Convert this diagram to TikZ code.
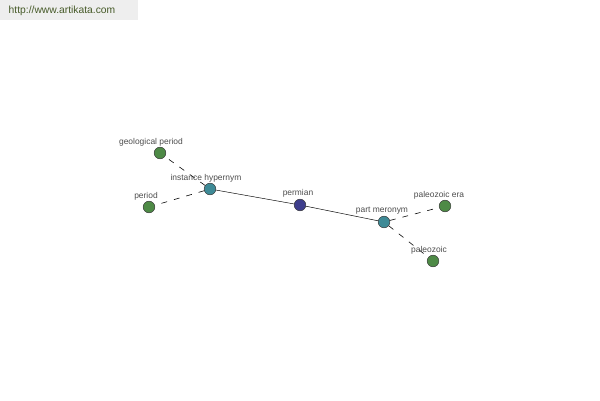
\documentclass[tikz,border=0pt]{standalone}
\usepackage{fontspec}
\setmainfont{Liberation Sans}
\definecolor{leafgreen}{RGB}{78,138,70}
\definecolor{relteal}{RGB}{62,138,150}
\definecolor{wordblue}{RGB}{62,62,140}
\definecolor{markgray}{RGB}{238,238,238}
\definecolor{markgreen}{RGB}{70,90,40}
\begin{document}
\begin{tikzpicture}
    [x=0.03cm, y=-0.03cm,
      dot/.style={circle,draw=black!80,line width=0.4pt,inner sep=0pt,minimum size=0.35cm},
      lab/.style={font=\fontsize{7.2}{8}\selectfont,text=black!70,inner sep=0pt},
      rel/.style={dash pattern=on 5pt off 6pt,line width=0.5pt}]
    \useasboundingbox (0,0) rectangle (600,400);
    \fill[markgray] (0,0) rectangle (138,20);
    \node[font=\fontsize{8.8}{10}\selectfont,text=markgreen,inner sep=0pt] (mark) at (62,11) {http://www.artikata.com};
    % nodes
    \node[dot,fill=wordblue] (permian) at (300,205) {};
    \node[dot,fill=relteal] (hyper) at (210,189) {};
    \node[dot,fill=relteal] (mero) at (384,222) {};
    \node[dot,fill=leafgreen] (geo) at (160,153) {};
    \node[dot,fill=leafgreen] (period) at (149,207) {};
    \node[dot,fill=leafgreen] (era) at (445,206) {};
    \node[dot,fill=leafgreen] (paleo) at (433,261) {};
    % links
    \draw (hyper) -- (permian) -- (mero);
    \draw[rel] (hyper) -- (geo);
    \draw[rel] (hyper) -- (period);
    \draw[rel] (mero) -- (era);
    \draw[rel] (mero) -- (paleo);
    % labels
    \node[lab] (geolab) at (151,142) {geological period};
    \node[lab] (hyperlab) at (206,178) {instance hypernym};
    \node[lab] (periodlab) at (146,196) {period};
    \node[lab] (permianlab) at (298,193) {permian};
    \node[lab] (merolab) at (382,211) {part meronym};
    \node[lab] (eralab) at (439,195) {paleozoic era};
    \node[lab] (paleolab) at (429,250) {paleozoic};
  \end{tikzpicture}
\end{document}
